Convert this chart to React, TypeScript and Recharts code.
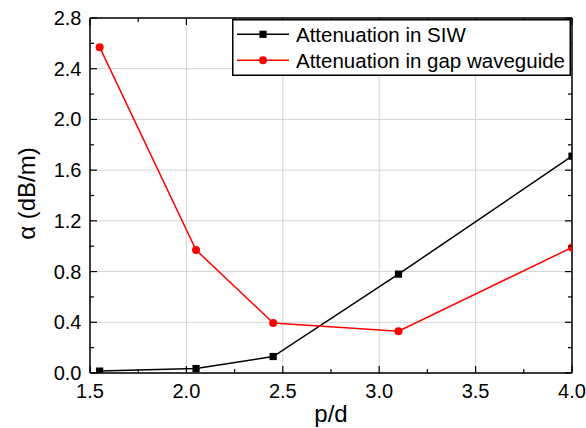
import React from 'react';
import { LineChart, Line, XAxis, YAxis, CartesianGrid, Legend } from 'recharts';

const pd = [1.55, 2.05, 2.45, 3.1, 4.0];
const siw = [0.015, 0.035, 0.13, 0.78, 1.71];
const gap = [2.57, 0.97, 0.395, 0.33, 0.99];
const xTicks = [1.5, 1.75, 2.0, 2.25, 2.5, 2.75, 3.0, 3.25, 3.5, 3.75, 4.0];
const xMajor = [1.5, 2.0, 2.5, 3.0, 3.5, 4.0];
const yTicks = [0, 0.2, 0.4, 0.6, 0.8, 1.0, 1.2, 1.4, 1.6, 1.8, 2.0, 2.2, 2.4, 2.6, 2.8];
const yMajor = [0, 0.4, 0.8, 1.2, 1.6, 2.0, 2.4, 2.8];
const seriesNames = ['Attenuation in SIW', 'Attenuation in gap waveguide'];
const xTitle = 'p/d';
const yTitle = 'α (dB/m)';

const data = pd.map((p, i) => ({ pd: p, siw: siw[i], gap: gap[i] }));

const FONT = '"Liberation Sans", Arial, sans-serif';
const isMajor = (v: number, list: number[]) => list.some((m) => Math.abs(m - v) < 1e-6);

const BottomTick = (props: any) => {
  const { x, y, payload } = props;
  const v = payload.value;
  const major = isMajor(v, xMajor);
  return (
    <g>
      <line x1={x} x2={x} y1={y} y2={y - (major ? 7 : 4)} stroke="#000" strokeWidth={1.2} />
      {major && (
        <text x={x} y={y + 24.5} textAnchor="middle" fontSize={20} fontFamily={FONT} fill="#000">
          {Number(v).toFixed(1)}
        </text>
      )}
    </g>
  );
};

const TopTick = (props: any) => {
  const { x, y, payload } = props;
  const major = isMajor(payload.value, xMajor);
  return <line x1={x} x2={x} y1={y} y2={y + (major ? 7 : 4)} stroke="#000" strokeWidth={1.2} />;
};

const LeftTick = (props: any) => {
  const { x, y, payload } = props;
  const v = payload.value;
  const major = isMajor(v, yMajor);
  return (
    <g>
      <line x1={x} x2={x + (major ? 7 : 4)} y1={y} y2={y} stroke="#000" strokeWidth={1.2} />
      {major && (
        <text x={x - 8.5} y={y + 7} textAnchor="end" fontSize={20} fontFamily={FONT} fill="#000">
          {Number(v).toFixed(1)}
        </text>
      )}
    </g>
  );
};

const RightTick = (props: any) => {
  const { x, y, payload } = props;
  const major = isMajor(payload.value, yMajor);
  return <line x1={x} x2={x - (major ? 7 : 4)} y1={y} y2={y} stroke="#000" strokeWidth={1.2} />;
};

const SquareDot = (props: any) => {
  const { cx, cy, index } = props;
  if (cx == null || cy == null) return <g key={`s${index}`} />;
  return <rect key={`s${index}`} x={cx - 3.6} y={cy - 3.6} width={7.2} height={7.2} fill="#000" />;
};

const CircleDot = (props: any) => {
  const { cx, cy, index } = props;
  if (cx == null || cy == null) return <g key={`c${index}`} />;
  return <circle key={`c${index}`} cx={cx} cy={cy} r={4} fill="#ff0000" />;
};

const LegendBox = () => (
  <svg width={339} height={57} style={{ display: 'block' }}>
    <rect x={0.75} y={0.75} width={337.5} height={55.5} fill="#fff" stroke="#000" strokeWidth={1.5} />
    <line x1={5} x2={57} y1={15.3} y2={15.3} stroke="#000" strokeWidth={1.5} />
    <rect x={27.4} y={11.7} width={7.2} height={7.2} fill="#000" />
    <text x={64} y={22.6} fontSize={20.5} fontFamily={FONT} fill="#000">{seriesNames[0]}</text>
    <line x1={5} x2={57} y1={41.3} y2={41.3} stroke="#ff0000" strokeWidth={1.5} />
    <circle cx={31} cy={41.3} r={4} fill="#ff0000" />
    <text x={64} y={48.6} fontSize={20.5} fontFamily={FONT} fill="#000">{seriesNames[1]}</text>
  </svg>
);

const XLabel = (props: any) => {
  const vb = props.viewBox || {};
  return (
    <text x={vb.x + vb.width / 2} y={vb.y + 48.5} textAnchor="middle" fontSize={24} fontFamily={FONT} fill="#000">
      {xTitle}
    </text>
  );
};

const YLabel = (props: any) => {
  const vb = props.viewBox || {};
  const cx = 26;
  const cy = vb.y + vb.height / 2 - 2;
  return (
    <text
      x={cx}
      y={cy}
      transform={`rotate(-90 ${cx} ${cy})`}
      textAnchor="middle"
      dominantBaseline="central"
      fontSize={24}
      fontFamily={FONT}
      fill="#000"
    >
      {yTitle}
    </text>
  );
};

export default function App() {
  return (
    <div style={{ position: 'absolute', left: 0, top: 0, width: 586, height: 428, background: '#fff' }}>
      <LineChart width={586} height={428} data={data} margin={{ top: 17, right: 13, bottom: 0, left: 0 }}>
        <CartesianGrid
          xAxisId="b"
          yAxisId="l"
          stroke="#d4d4d4"
          strokeWidth={1}
          verticalValues={xMajor}
          horizontalValues={yMajor}
        />
        <XAxis
          xAxisId="b"
          dataKey="pd"
          type="number"
          domain={[1.5, 4.0]}
          ticks={xTicks}
          interval={0}
          allowDataOverflow
          height={55}
          tickSize={0}
          tickMargin={0}
          tickLine={false}
          tick={<BottomTick />}
          axisLine={{ stroke: '#000', strokeWidth: 1.5 }}
          label={<XLabel />}
        />
        <XAxis
          xAxisId="t"
          orientation="top"
          dataKey="pd"
          type="number"
          domain={[1.5, 4.0]}
          ticks={xTicks}
          interval={0}
          allowDataOverflow
          height={1}
          tickSize={0}
          tickMargin={0}
          tickLine={false}
          tick={<TopTick />}
          axisLine={{ stroke: '#000', strokeWidth: 1.5 }}
        />
        <YAxis
          yAxisId="l"
          type="number"
          domain={[0, 2.8]}
          ticks={yTicks}
          interval={0}
          allowDataOverflow
          width={90}
          tickSize={0}
          tickMargin={0}
          tickLine={false}
          tick={<LeftTick />}
          axisLine={{ stroke: '#000', strokeWidth: 1.5 }}
          label={<YLabel />}
        />
        <YAxis
          yAxisId="r"
          orientation="right"
          type="number"
          domain={[0, 2.8]}
          ticks={yTicks}
          interval={0}
          allowDataOverflow
          width={1}
          tickSize={0}
          tickMargin={0}
          tickLine={false}
          tick={<RightTick />}
          axisLine={{ stroke: '#000', strokeWidth: 1.5 }}
        />
        <Line
          xAxisId="b"
          yAxisId="l"
          dataKey="siw"
          name={seriesNames[0]}
          stroke="#000"
          strokeWidth={1.5}
          dot={<SquareDot />}
          isAnimationActive={false}
        />
        <Line
          xAxisId="b"
          yAxisId="l"
          dataKey="gap"
          name={seriesNames[1]}
          stroke="#ff0000"
          strokeWidth={1.5}
          dot={<CircleDot />}
          isAnimationActive={false}
        />
        <Legend
          layout="vertical"
          align="center"
          verticalAlign="middle"
          content={<LegendBox />}
          wrapperStyle={{ position: 'absolute', left: 232, top: 19, width: 339, height: 57 }}
        />
      </LineChart>
    </div>
  );
}
